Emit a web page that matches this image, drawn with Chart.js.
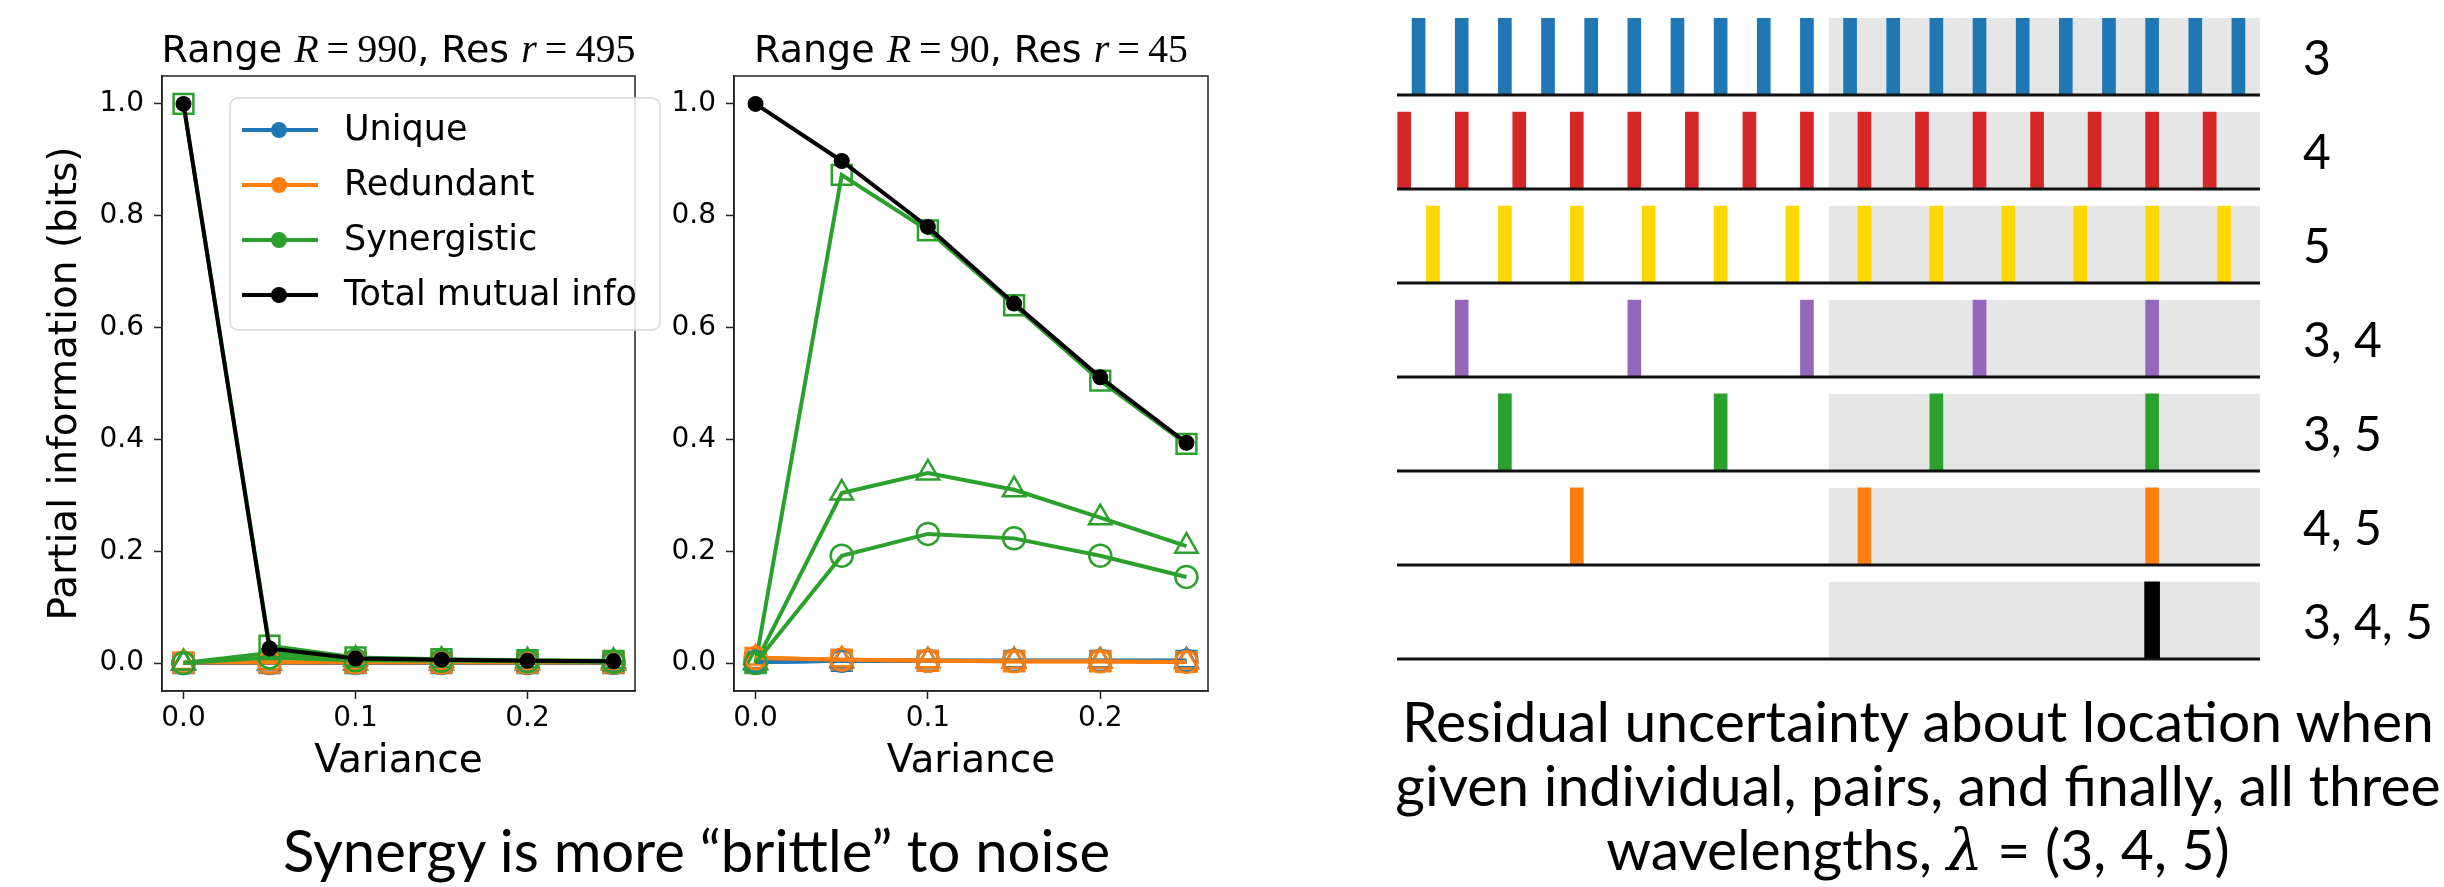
<!DOCTYPE html>
<html>
<head>
<meta charset="utf-8">
<script src="https://cdn.jsdelivr.net/npm/chart.js@4.4.1/dist/chart.umd.min.js"></script>
<style>
  html, body { margin: 0; padding: 0; background: #fff; }
  body { position: relative; width: 2444px; height: 887px; overflow: hidden; }
  canvas { position: absolute; top: 0; }
  .cap { position: absolute; font-family: Lato, sans-serif; color: #000;
         text-align: center; white-space: nowrap; line-height: 1; }
  .cap .m { font-family: "DejaVu Serif", serif; font-style: italic; }
</style>
</head>
<body>
<canvas id="stripChart" width="1064" height="700" style="left:1380px"></canvas>
<canvas id="rightChart" width="585" height="887" style="left:665px"></canvas>
<canvas id="leftChart" width="665" height="887" style="left:0"></canvas>

<div class="cap" style="left:283px; top:821px; width:800px; font-size:58px;">Synergy is more “brittle” to noise</div>
<div class="cap" style="left:1218px; top:688px; width:1400px; font-size:57px; line-height:64px;">Residual uncertainty about location when<br>given individual, pairs, and finally, all three<br>wavelengths, <span class="m">λ</span> = (3, 4, 5)</div>

<script>
/* ── Data ──────────────────────────────────────────────── */
const variance = [0, 0.05, 0.1, 0.15, 0.2, 0.25];
const xTicks   = [0, 0.1, 0.2];
const yTicks   = [0, 0.2, 0.4, 0.6, 0.8, 1.0];

// Range R = 990, Res r = 495
const titleA  = ['990', '495'];
const totalA  = [1.0, 0.026, 0.008, 0.006, 0.004, 0.003];
const uniqueA = [0, 0, 0, 0, 0, 0];
const redundA = [0.001, 0.001, 0.001, 0.001, 0.001, 0.001];
const synSqA  = [1.0, 0.031, 0.010, 0.007, 0.005, 0.004];
const synTriA = [0, 0.018, 0.007, 0.005, 0.004, 0.003];
const synCirA = [0, 0.010, 0.005, 0.004, 0.003, 0.002];

// Range R = 90, Res r = 45
const titleB  = ['90', '45'];
const totalB  = [1.0, 0.898, 0.780, 0.643, 0.511, 0.394];
const uniqueB = [0.002, 0.004, 0.004, 0.004, 0.004, 0.004];
const redundB = [0.009, 0.006, 0.004, 0.003, 0.003, 0.002];
const synSqB  = [0, 0.873, 0.774, 0.640, 0.505, 0.392];
const synTriB = [0, 0.304, 0.340, 0.310, 0.260, 0.209];
const synCirB = [0, 0.192, 0.231, 0.223, 0.192, 0.154];

const legendLabels = ['Unique', 'Redundant', 'Synergistic', 'Total mutual info'];

// wavelength rows: tick positions on a 0..59 grid
const stripLabels = ['3', '4', '5', '3, 4', '3, 5', '4, 5', '3, 4, 5'];
const stripPos = [
  [1, 4, 7, 10, 13, 16, 19, 22, 25, 28, 31, 34, 37, 40, 43, 46, 49, 52, 55, 58],
  [0, 4, 8, 12, 16, 20, 24, 28, 32, 36, 40, 44, 48, 52, 56],
  [2, 7, 12, 17, 22, 27, 32, 37, 42, 47, 52, 57],
  [4, 16, 28, 40, 52],
  [7, 22, 37, 52],
  [12, 32, 52],
  [52]
];
const stripRange = [-0.5, 59.5];
const shadeRange = [29.5, 59.5];

/* ── Styles ────────────────────────────────────────────── */
const C = { blue: '#1f77b4', orange: '#ff7f0e', green: '#2ca02c', black: '#000000' };
const stripColors = ['#1f77b4', '#d62728', '#ffd700', '#9467bd', '#2ca02c', '#ff7f0e', '#000000'];
const SANS = '"DejaVu Sans", sans-serif';
const SERIF = '"Liberation Serif", serif';
const BAR_LEN = 0.82;

Chart.defaults.font.family = SANS;
Chart.defaults.color = '#000';

/* ── Plugins ───────────────────────────────────────────── */
const frame = {
  id: 'frame',
  afterDatasetsDraw(chart) {
    const { ctx, chartArea: a } = chart;
    ctx.save();
    ctx.strokeStyle = '#222';
    ctx.lineWidth = 1.5;
    ctx.strokeRect(a.left, a.top, a.right - a.left, a.bottom - a.top);
    ctx.restore();
  }
};

const mathTitle = {
  id: 'mathTitle',
  afterDraw(chart, args, opts) {
    if (!opts.nums) return;
    const [R, r] = opts.nums;
    const runs = [
      ['Range ', '38px ' + SANS], ['R', 'italic 40px ' + SERIF], ['\u2009=\u2009' + R, '40px ' + SERIF],
      [', Res ', '38px ' + SANS], ['r', 'italic 40px ' + SERIF], ['\u2009=\u2009' + r, '40px ' + SERIF]
    ];
    const { ctx, chartArea: a } = chart;
    ctx.save();
    let w = 0;
    runs.forEach(([t, f]) => { ctx.font = f; w += ctx.measureText(t).width; });
    let x = (a.left + a.right) / 2 - w / 2;
    ctx.fillStyle = '#000';
    ctx.textBaseline = 'alphabetic';
    runs.forEach(([t, f]) => {
      ctx.font = f;
      ctx.fillText(t, x, a.top - 14);
      x += ctx.measureText(t).width;
    });
    ctx.restore();
  }
};

const legendBox = {
  id: 'legendBox',
  afterDraw(chart, args, opts) {
    if (!opts.items) return;
    const { ctx, chartArea: a } = chart;
    const x = a.left + 68, y = a.top + 22, w = 430, h = 232;
    ctx.save();
    ctx.beginPath();
    ctx.roundRect(x, y, w, h, 8);
    ctx.fillStyle = 'rgba(255,255,255,0.85)';
    ctx.fill();
    ctx.strokeStyle = '#d8d8d8';
    ctx.lineWidth = 1.5;
    ctx.stroke();
    ctx.font = '35px ' + SANS;
    ctx.textBaseline = 'middle';
    opts.items.forEach(([label, col], i) => {
      const cy = y + 32 + i * 55;
      ctx.strokeStyle = col;
      ctx.lineWidth = 4;
      ctx.beginPath();
      ctx.moveTo(x + 12, cy);
      ctx.lineTo(x + 88, cy);
      ctx.stroke();
      ctx.fillStyle = col;
      ctx.beginPath();
      ctx.arc(x + 49, cy, 8, 0, Math.PI * 2);
      ctx.fill();
      ctx.fillStyle = '#000';
      ctx.fillText(label, x + 114, cy + 1);
    });
    ctx.restore();
  }
};

const rowLabels = {
  id: 'rowLabels',
  afterDraw(chart) {
    const { ctx, chartArea: a, scales: { y } } = chart;
    ctx.save();
    ctx.font = '48px Lato, sans-serif';
    ctx.fillStyle = '#000';
    ctx.textBaseline = 'middle';
    stripLabels.forEach((t, i) => {
      const base = stripLabels.length - 1 - i;
      ctx.fillText(t, a.right + 43, y.getPixelForValue(base + BAR_LEN / 2) + 3);
    });
    ctx.restore();
  }
};

/* ── Line panels ───────────────────────────────────────── */
function series(vals, col, style, radius, filled) {
  return {
    data: variance.map((x, i) => ({ x, y: vals[i] })),
    borderColor: col,
    borderWidth: 4,
    pointStyle: style,
    pointRadius: radius,
    pointBorderColor: col,
    pointBorderWidth: filled ? 0 : 2.5,
    pointBackgroundColor: filled ? col : 'rgba(0,0,0,0)',
    tension: 0
  };
}

function panelDatasets(p) {
  const ds = [];
  [['rect', 14, p.synSq], ['triangle', 13, p.synTri], ['circle', 11, p.synCir]].forEach(([style, r, syn]) => {
    ds.push(series(p.unique, C.blue, style, r, false));
    ds.push(series(p.redund, C.orange, style, r, false));
    ds.push(series(syn, C.green, style, r, false));
  });
  ds.push(series(p.total, C.black, 'circle', 8, true));
  ds.forEach((d, i) => { d.order = ds.length - i; });   // later series on top
  return ds;
}

function panelChart(id, p, o) {
  const tickFont = { size: 28 };
  const gridOpts = { drawOnChartArea: false, tickLength: 8, tickColor: '#222', tickWidth: 1.5 };
  return new Chart(document.getElementById(id), {
    type: 'line',
    data: { datasets: panelDatasets(p) },
    options: {
      responsive: false,
      animation: false,
      devicePixelRatio: 1,
      layout: { padding: o.padding },
      plugins: {
        legend: { display: false },
        tooltip: { enabled: false },
        mathTitle: { nums: p.title },
        legendBox: { items: o.legend }
      },
      scales: {
        x: {
          type: 'linear', min: -0.0125, max: 0.2625,
          afterBuildTicks: s => { s.ticks = xTicks.map(v => ({ value: v })); },
          afterFit: s => { s.height = 99; },
          grid: gridOpts,
          border: { color: '#222', width: 1.5 },
          ticks: { font: tickFont, color: '#000', padding: 3, maxRotation: 0, callback: v => v.toFixed(1) },
          title: { display: true, text: 'Variance', font: { size: 39 }, color: '#000', padding: { top: 0, bottom: 5 } }
        },
        y: {
          type: 'linear', min: -0.05, max: 1.05,
          afterBuildTicks: s => { s.ticks = yTicks.map(v => ({ value: v })); },
          afterFit: s => { s.width = o.yWidth; },
          grid: gridOpts,
          border: { color: '#222', width: 1.5 },
          ticks: { font: tickFont, color: '#000', padding: 10, callback: v => v.toFixed(1) },
          title: o.yTitle
            ? { display: true, text: o.yTitle, font: { size: 39 }, color: '#000', padding: { top: 42, bottom: 0 } }
            : { display: false }
        }
      }
    },
    plugins: [frame, mathTitle, legendBox]
  });
}

panelChart('leftChart',
  { title: titleA, total: totalA, unique: uniqueA, redund: redundA, synSq: synSqA, synTri: synTriA, synCir: synCirA },
  { padding: { top: 76, right: 30, bottom: 97, left: 0 }, yWidth: 162,
    yTitle: 'Partial information (bits)',
    legend: legendLabels.map((l, i) => [l, [C.blue, C.orange, C.green, C.black][i]]) });

panelChart('rightChart',
  { title: titleB, total: totalB, unique: uniqueB, redund: redundB, synSq: synSqB, synTri: synTriB, synCir: synCirB },
  { padding: { top: 76, right: 42, bottom: 97, left: 0 }, yWidth: 69 });

/* ── Wavelength strips ─────────────────────────────────── */
const stripSets = [];
stripLabels.forEach((label, i) => {
  const base = stripLabels.length - 1 - i;
  stripSets.push({
    type: 'line', order: 20,
    data: shadeRange.map(x => ({ x, y: base + BAR_LEN })),
    fill: { value: base },
    backgroundColor: '#e6e6e6',
    borderColor: 'rgba(0,0,0,0)',
    pointRadius: 0
  });
  stripSets.push({
    type: 'bar', order: 10, grouped: false,
    data: stripPos[i].map(u => ({ x: u, y: [base, base + BAR_LEN] })),
    backgroundColor: stripColors[i],
    barThickness: i === stripLabels.length - 1 ? 15 : 13,
    borderWidth: 0
  });
  stripSets.push({
    type: 'line', order: 0, clip: false,
    data: stripRange.map(x => ({ x, y: base })),
    borderColor: '#111',
    borderWidth: 3,
    pointRadius: 0
  });
});

new Chart(document.getElementById('stripChart'), {
  type: 'bar',
  data: { datasets: stripSets },
  options: {
    responsive: false,
    animation: false,
    devicePixelRatio: 1,
    layout: { padding: { left: 17, top: 18, right: 184, bottom: 41 } },
    plugins: { legend: { display: false }, tooltip: { enabled: false } },
    scales: {
      x: { type: 'linear', min: stripRange[0], max: stripRange[1], offset: false, display: false },
      y: { type: 'linear', min: 0, max: stripLabels.length - 1 + BAR_LEN, display: false }
    }
  },
  plugins: [rowLabels]
});
</script>
</body>
</html>
